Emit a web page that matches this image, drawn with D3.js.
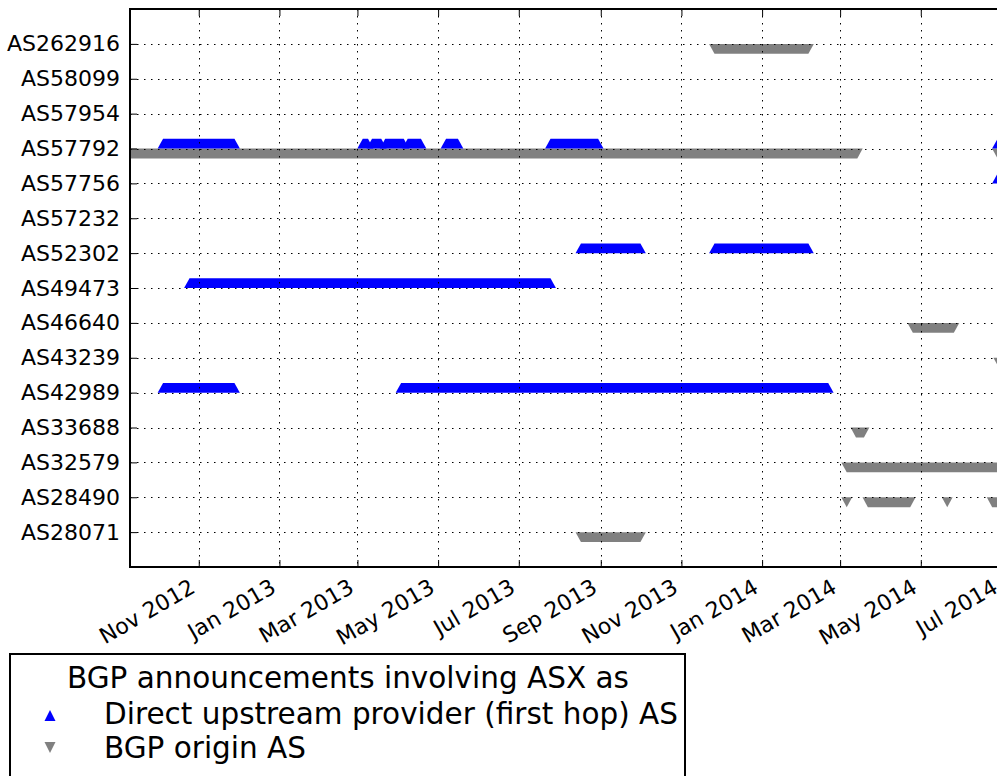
<!DOCTYPE html>
<html>
<head>
<meta charset="utf-8">
<script src="https://cdn.jsdelivr.net/npm/d3@7"></script>
<style>
  body { margin: 0; background: #fff; }
  svg { display: block; font-family: "DejaVu Sans", sans-serif; }
</style>
</head>
<body>
<div id="chart"></div>
<script>
// AS numbers on the y axis, bottom to top
var asNames = ["AS28071", "AS28490", "AS32579", "AS33688", "AS42989", "AS43239", "AS46640",
  "AS49473", "AS52302", "AS57232", "AS57756", "AS57792", "AS57954", "AS58099", "AS262916"];

var tickDates = ["2012-11-01", "2013-01-01", "2013-03-01", "2013-05-01", "2013-07-01", "2013-09-01",
  "2013-11-01", "2014-01-01", "2014-03-01", "2014-05-01", "2014-07-01"];
var tickLabels = ["Nov 2012", "Jan 2013", "Mar 2013", "May 2013", "Jul 2013", "Sep 2013",
  "Nov 2013", "Jan 2014", "Mar 2014", "May 2014", "Jul 2014"];

// runs of daily observations: [AS, first day, last day]
var upstreamRuns = [
  ["AS57792", "2012-10-05", "2012-11-28"],
  ["AS57792", "2013-03-05", "2013-03-09"],
  ["AS57792", "2013-03-12", "2013-03-19"],
  ["AS57792", "2013-03-22", "2013-04-05"],
  ["AS57792", "2013-04-08", "2013-04-18"],
  ["AS57792", "2013-05-07", "2013-05-16"],
  ["AS57792", "2013-07-25", "2013-08-30"],
  ["AS57792", "2014-06-28", "2014-07-10"],
  ["AS57756", "2014-06-28", "2014-07-10"],
  ["AS52302", "2013-08-17", "2013-10-01"],
  ["AS52302", "2013-11-26", "2014-02-05"],
  ["AS49473", "2012-10-25", "2013-07-25"],
  ["AS42989", "2012-10-05", "2012-11-28"],
  ["AS42989", "2013-04-03", "2014-02-20"]
];

var originRuns = [
  ["AS262916", "2013-11-26", "2014-02-05"],
  ["AS57792", "2012-09-01", "2014-03-14"],
  ["AS57792", "2014-06-28", "2014-07-10"],
  ["AS46640", "2014-04-25", "2014-05-26"],
  ["AS43239", "2014-06-29", "2014-07-10"],
  ["AS33688", "2014-03-13", "2014-03-19"],
  ["AS32579", "2014-03-06", "2014-07-10"],
  ["AS28490", "2014-03-06", "2014-03-06"],
  ["AS28490", "2014-03-22", "2014-04-23"],
  ["AS28490", "2014-05-21", "2014-05-21"],
  ["AS28490", "2014-06-24", "2014-07-10"],
  ["AS28071", "2013-08-17", "2013-10-01"]
];

var width = 997, height = 776;
var plot = { left: 130, top: 9, right: 1016, bottom: 567 };
var parse = d3.utcParse("%Y-%m-%d");

var svg = d3.select("#chart").append("svg")
  .attr("width", width)
  .attr("height", height);

var x = d3.scaleUtc()
  .domain([parse("2012-09-10"), parse("2014-07-12")])
  .range([plot.left, plot.right]);

var y = d3.scaleLinear()
  .domain([-1, asNames.length])
  .range([plot.bottom, plot.top]);

svg.append("clipPath").attr("id", "clip")
  .append("rect")
  .attr("x", plot.left).attr("y", plot.top)
  .attr("width", plot.right - plot.left).attr("height", plot.bottom - plot.top);

var hw = 5.4, hh = 4.9;

// a run of triangle markers merges into a trapezoid
function runPath(d, up) {
  var x0 = x(parse(d[1])), x1 = x(parse(d[2]));
  var i = asNames.indexOf(d[0]);
  var yc = up ? y(i + 0.138) : y(i - 0.143);
  if (up) {
    return "M" + (x0 - hw) + "," + (yc + hh) + "L" + x0 + "," + (yc - hh) +
      "L" + x1 + "," + (yc - hh) + "L" + (x1 + hw) + "," + (yc + hh) + "Z";
  }
  return "M" + (x0 - hw) + "," + (yc - hh) + "L" + (x1 + hw) + "," + (yc - hh) +
    "L" + x1 + "," + (yc + hh) + "L" + x0 + "," + (yc + hh) + "Z";
}

var marks = svg.append("g").attr("clip-path", "url(#clip)");

marks.selectAll("path.origin")
  .data(originRuns)
  .enter().append("path")
  .attr("class", "origin")
  .attr("d", d => runPath(d, false))
  .attr("fill", "#808080");

marks.selectAll("path.upstream")
  .data(upstreamRuns)
  .enter().append("path")
  .attr("class", "upstream")
  .attr("d", d => runPath(d, true))
  .attr("fill", "#0000ff");

// dotted grid on top of the marks
var grid = svg.append("g")
  .attr("stroke", "#000")
  .attr("stroke-width", 1)
  .attr("stroke-dasharray", "1.5,5.5");

grid.selectAll("line.h")
  .data(asNames)
  .enter().append("line")
  .attr("x1", plot.left).attr("x2", plot.right)
  .attr("y1", (d, i) => Math.round(y(i)) + 0.5)
  .attr("y2", (d, i) => Math.round(y(i)) + 0.5);

grid.selectAll("line.v")
  .data(tickDates)
  .enter().append("line")
  .attr("x1", d => Math.round(x(parse(d))) + 0.5)
  .attr("x2", d => Math.round(x(parse(d))) + 0.5)
  .attr("y1", plot.top).attr("y2", plot.bottom);

// axes with inward ticks
var xTickVals = tickDates.map(parse);

var bottomAxis = d3.axisBottom(x)
  .tickValues(xTickVals)
  .tickSize(-7)
  .tickFormat((d, i) => tickLabels[i]);

var gx = svg.append("g")
  .attr("transform", `translate(0, ${plot.bottom})`)
  .call(bottomAxis);

gx.selectAll("text")
  .attr("x", -3)
  .attr("y", 0)
  .attr("dy", 0)
  .attr("text-anchor", "end")
  .attr("transform", "translate(0,23) rotate(-30)")
  .attr("font-size", 22)
  .attr("font-family", "DejaVu Sans")
  .attr("fill", "#000");

svg.append("g")
  .attr("transform", `translate(0, ${plot.top})`)
  .call(d3.axisTop(x).tickValues(xTickVals).tickSize(-7).tickFormat(""));

var leftAxis = d3.axisLeft(y)
  .tickValues(d3.range(asNames.length))
  .tickSize(-7)
  .tickPadding(10)
  .tickFormat(i => asNames[i]);

svg.append("g")
  .attr("transform", `translate(${plot.left}, 0)`)
  .call(leftAxis)
  .selectAll("text")
  .attr("font-size", 22)
  .attr("font-family", "DejaVu Sans")
  .attr("fill", "#000");

svg.append("g")
  .attr("transform", `translate(${plot.right}, 0)`)
  .call(d3.axisRight(y).tickValues(d3.range(asNames.length)).tickSize(-7).tickFormat(""));

svg.selectAll(".domain").remove();
svg.selectAll(".tick line").attr("stroke", "#000").attr("stroke-width", 1);

svg.append("rect")
  .attr("x", plot.left).attr("y", plot.top)
  .attr("width", plot.right - plot.left).attr("height", plot.bottom - plot.top)
  .attr("fill", "none")
  .attr("stroke", "#000")
  .attr("stroke-width", 2);

// legend
var legendTitle = "BGP announcements involving ASX as";
var legendNames = ["Direct upstream provider (first hop) AS", "BGP origin AS"];
var legendColors = ["#0000ff", "#808080"];

var legend = svg.append("g");

legend.append("rect")
  .attr("x", 10).attr("y", 654)
  .attr("width", 675).attr("height", 160)
  .attr("fill", "#fff")
  .attr("stroke", "#000")
  .attr("stroke-width", 2);

legend.append("text")
  .attr("x", 348).attr("y", 688)
  .attr("text-anchor", "middle")
  .attr("font-size", 29.5)
  .text(legendTitle);

var entry = legend.selectAll("g.entry")
  .data(legendNames)
  .enter().append("g")
  .attr("transform", (d, i) => `translate(0, ${724 + i * 34})`);

entry.append("path")
  .attr("d", (d, i) => i === 0
    ? "M44.5,-3L50,-14L55.5,-3Z"
    : "M44.5,-16L55.5,-16L50,-5Z")
  .attr("fill", (d, i) => legendColors[i]);

entry.append("text")
  .attr("x", 104).attr("y", 0)
  .attr("font-size", 29.5)
  .text(d => d);
</script>
</body>
</html>
